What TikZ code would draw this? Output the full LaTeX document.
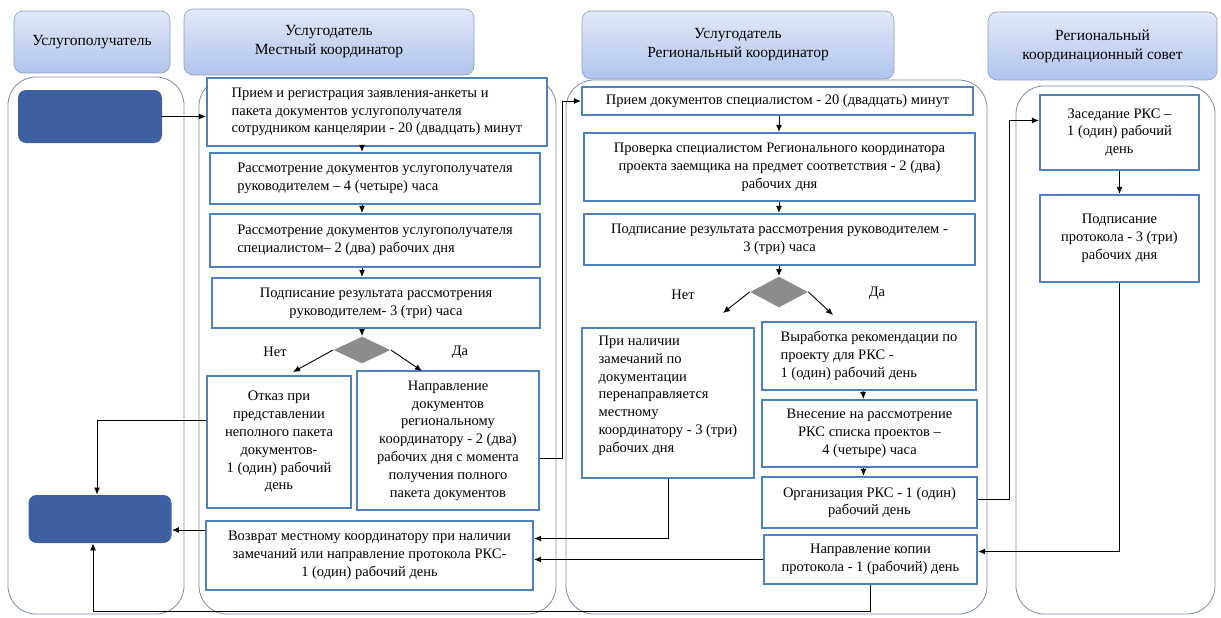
\documentclass[tikz,border=0pt]{standalone}
\usepackage{fontspec}
\setmainfont{Liberation Serif}
\usetikzlibrary{shapes.geometric, arrows.meta}
\definecolor{boxblue}{RGB}{79,129,189}
\definecolor{darkblue}{RGB}{62,96,160}
\definecolor{lanegray}{RGB}{125,140,165}
\definecolor{headtop}{RGB}{226,233,248}
\definecolor{headbot}{RGB}{176,196,238}
\definecolor{headline}{RGB}{140,158,190}

\begin{document}
\begin{tikzpicture}[x=1pt, y=-1pt, >={Latex[length=7pt, width=6pt]}, line width=0.9pt,
    lane/.style={draw=lanegray, line width=0.8pt, rounded corners=28pt, inner sep=0pt},
    head/.style={draw=headline, line width=0.6pt, rounded corners=9pt, top color=headtop, bottom color=headbot, align=center, font=\fontsize{15.5}{19}\selectfont},
    stepbox/.style={draw=boxblue, line width=2.2pt, fill=white, inner sep=0pt, align=center, font=\fontsize{14.5}{17.8}\selectfont},
    actor/.style={fill=darkblue, rounded corners=8pt, inner sep=0pt},
    choice/.style={diamond, aspect=2, fill=gray!90, inner sep=0pt, minimum width=57pt, minimum height=27pt},
    lbl/.style={font=\fontsize{14.5}{16}\selectfont}]
    \useasboundingbox (0,0) rectangle (1221,618);

    \node[lane, minimum width=176pt, minimum height=537pt] (ln1) at (96,345.5) {};
    \node[lane, minimum width=357pt, minimum height=536pt] (ln2) at (377.5,346) {};
    \node[lane, minimum width=421pt, minimum height=534pt] (ln3) at (776.5,347) {};
    \node[lane, minimum width=199pt, minimum height=528pt] (ln4) at (1115.5,350) {};

    \node[head, minimum width=156pt, minimum height=62pt] (hd1) at (92,42) {Услугополучатель};
    \node[head, minimum width=290pt, minimum height=66pt] (hd2) at (329,42) {Услугодатель\\Местный координатор};
    \node[head, minimum width=312pt, minimum height=68pt] (hd3) at (738,45) {Услугодатель\\Региональный координатор};
    \node[head, minimum width=229pt, minimum height=68pt] (hd4) at (1102.5,46) {Региональный\\координационный совет};

    \node[actor, minimum width=144pt, minimum height=53pt] (s) at (90,116.5) {};
    \node[actor, minimum width=143pt, minimum height=48pt] (e) at (100,519) {};

    \node[stepbox, align=left, minimum width=340pt, minimum height=68pt] (b1) at (377,112) {Прием и регистрация заявления-анкеты и\\пакета документов услугополучателя\\сотрудником канцелярии - 20 (двадцать) минут};
    \node[stepbox, align=left, minimum width=330pt, minimum height=51pt] (b2) at (375,178.5) {Рассмотрение документов услугополучателя\\руководителем – 4 (четыре) часа};
    \node[stepbox, align=left, minimum width=330pt, minimum height=53pt] (b3) at (375,240.5) {Рассмотрение документов услугополучателя\\специалистом– 2 (два) рабочих дня};
    \node[stepbox, minimum width=328pt, minimum height=50pt] (b4) at (376,303) {Подписание результата рассмотрения\\руководителем- 3 (три) часа};
    \node[choice] (dia1) at (362,350) {};
    \node[lbl] (no1l) at (275,352) {Нет};
    \node[lbl] (yes1l) at (460,352) {Да};
    \coordinate (no1) at (293,372);
    \coordinate (yes1) at (422,371);
    \node[stepbox, minimum width=144pt, minimum height=132pt] (b5) at (279,442) {Отказ при\\представлении\\неполного пакета\\документов-\\1 (один) рабочий\\день};
    \node[stepbox, minimum width=182pt, minimum height=139pt] (b6) at (448,440.5) {Направление\\документов\\региональному\\координатору - 2 (два)\\рабочих дня с момента\\получения полного\\пакета документов};
    \node[stepbox, minimum width=327pt, minimum height=69pt] (b7) at (369.5,555.5) {Возврат местному координатору при наличии\\замечаний или направление протокола РКС-\\1 (один) рабочий день};

    \node[stepbox, minimum width=391pt, minimum height=28pt] (c1) at (777.5,101) {Прием документов специалистом - 20 (двадцать) минут};
    \node[stepbox, minimum width=391pt, minimum height=68pt] (c2) at (779.5,167) {Проверка специалистом Регионального координатора\\проекта заемщика на предмет соответствия - 2 (два)\\рабочих дня};
    \node[stepbox, minimum width=391pt, minimum height=51pt] (c3) at (779.5,239.5) {Подписание результата рассмотрения руководителем -\\3 (три) часа};
    \node[choice, minimum width=58pt, minimum height=31pt] (dia2) at (779,292) {};
    \node[lbl] (no2l) at (683,295) {Нет};
    \node[lbl] (yes2l) at (877,293) {Да};
    \coordinate (no2) at (723,313);
    \coordinate (yes2) at (833,315);
    \node[stepbox, align=left, minimum width=172pt, minimum height=150pt] (c4) at (668,403) {При наличии\\замечаний по\\документации\\перенаправляется\\местному\\координатору - 3 (три)\\рабочих дня\\\mbox{}};
    \node[stepbox, align=left, minimum width=214pt, minimum height=68pt] (c5) at (869,356) {Выработка рекомендации по\\проекту для РКС -\\1 (один) рабочий день};
    \node[stepbox, minimum width=215pt, minimum height=67pt] (c6) at (869.5,433.5) {Внесение на рассмотрение\\РКС списка проектов –\\4 (четыре) часа};
    \node[stepbox, minimum width=215pt, minimum height=51pt] (c7) at (869.5,502.5) {Организация РКС - 1 (один)\\рабочий день};
    \node[stepbox, minimum width=213pt, minimum height=49pt] (c8) at (870.5,559.5) {Направление копии\\протокола - 1 (рабочий) день};

    \node[stepbox, minimum width=159pt, minimum height=75pt] (d1) at (1119.5,132.5) {Заседание РКС –\\1 (один) рабочий\\день};
    \node[stepbox, minimum width=159pt, minimum height=87pt] (d2) at (1119.5,238.5) {Подписание\\протокола - 3 (три)\\рабочих дня};

    \draw[->] (s.east) -- (s.east -| b1.west);
    \draw[->] (b1.south -| dia1) -- (b2.north -| dia1);
    \draw[->] (b2.south -| dia1) -- (b3.north -| dia1);
    \draw[->] (b3.south -| dia1) -- (b4.north -| dia1);
    \draw[->] (b4.south -| dia1) -- (dia1.north);
    \draw[->] (dia1.west) -- (no1);
    \draw[->] (dia1.east) -- (yes1);
    \draw[->] ([yshift=22pt]b5.west) -| ([xshift=-3pt]e.north);
    \draw[->] ([yshift=-11pt]e.east -| b7.west) -- ([yshift=-11pt]e.east);
    \draw[->] ([yshift=-18pt]b6.east) -- ++(22,0) |- (c1.west);

    \draw[->] (c1.south -| dia2) -- (c2.north -| dia2);
    \draw[->] (c2.south -| dia2) -- (c3.north -| dia2);
    \draw[->] (c3.south -| dia2) -- (dia2.north);
    \draw[->] (dia2.west) -- (no2);
    \draw[->] (dia2.east) -- (yes2);
    \draw[->] ([xshift=-6pt]c5.south) -- ([xshift=-6pt]c6.north);
    \draw[->] ([xshift=-6pt]c6.south) -- ([xshift=-6pt]c7.north);
    \draw[->] (c4.south) |- ([yshift=17pt]b7.east);
    \draw[->] (c8.west) -- (c8.west -| b7.east);
    \draw[->] (c8.south) -- ++(0,26) -| ([xshift=-7pt]e.south);
    \draw[->] ([yshift=3pt]c7.east) -- ++(31,0) |- ([yshift=12pt]d1.west);

    \draw[->] (d1.south) -- (d2.north);
    \draw[->] (d2.south) |- ([yshift=8pt]c8.east);
\end{tikzpicture}
\end{document}
